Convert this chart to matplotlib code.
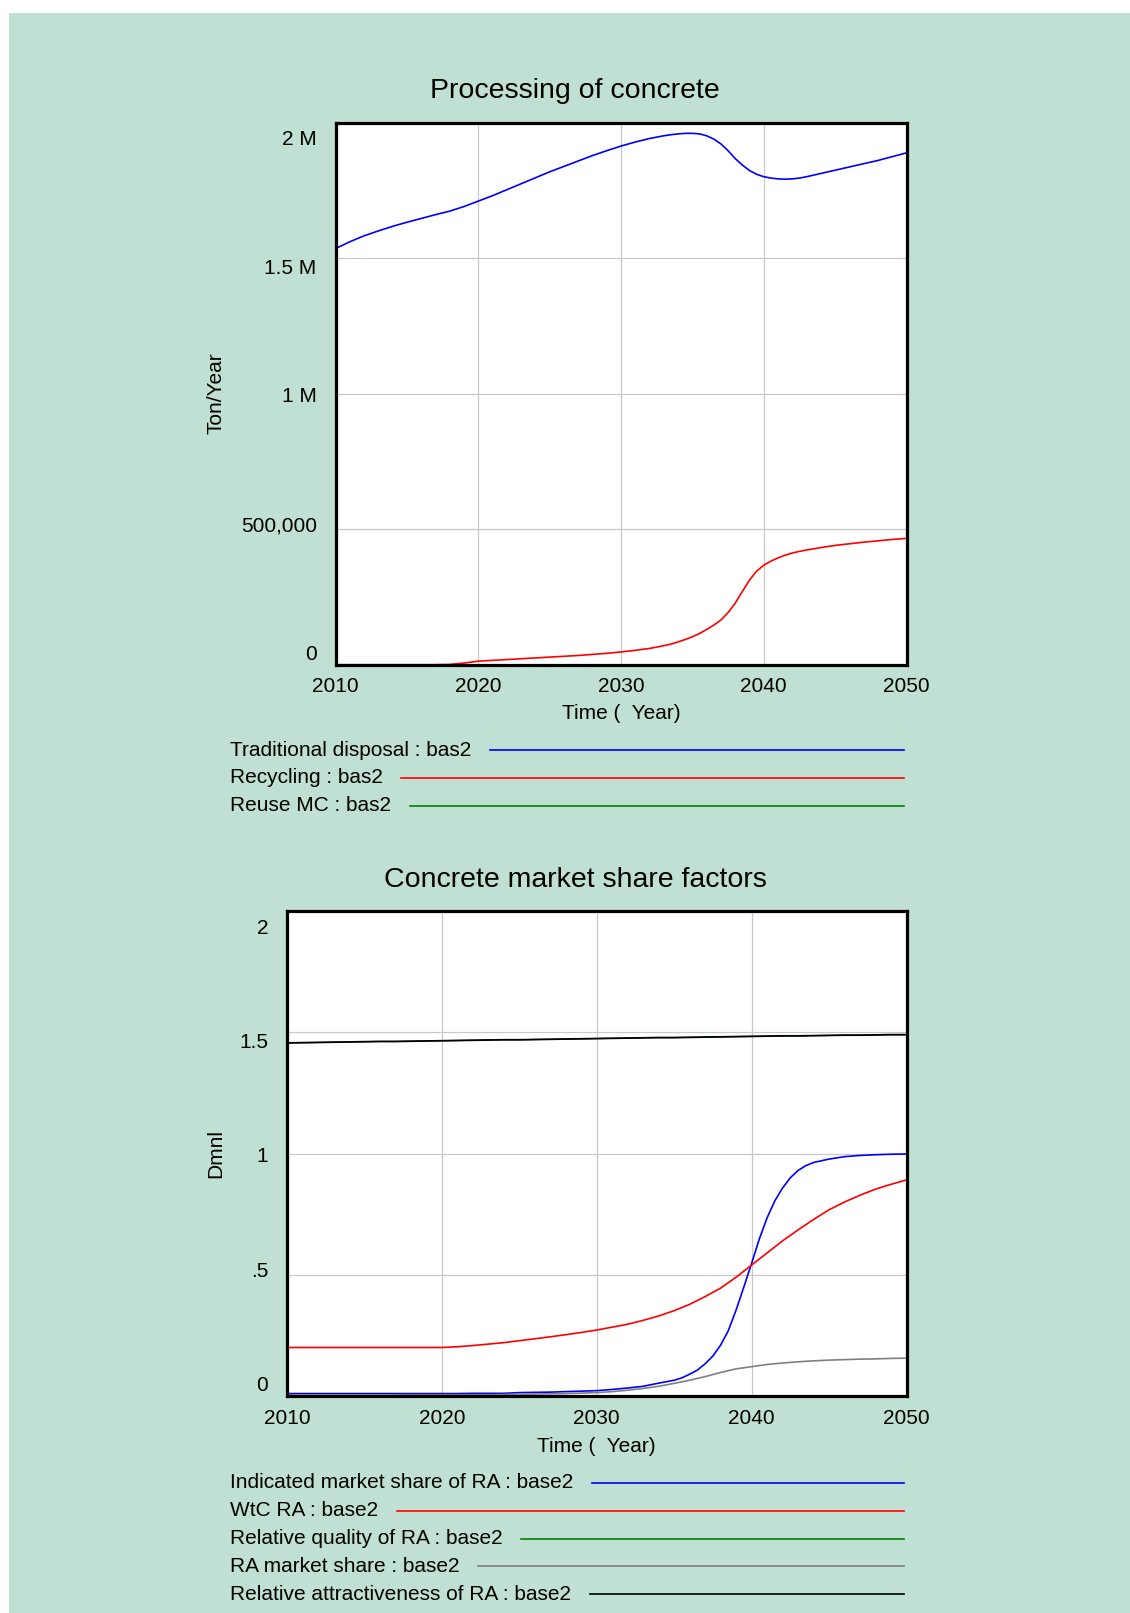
import matplotlib
matplotlib.use("Agg")
import matplotlib.pyplot as plt
from matplotlib.lines import Line2D
from matplotlib.patches import Rectangle
from matplotlib.transforms import ScaledTranslation

plt.rcParams['font.family'] = ['Liberation Sans', 'DejaVu Sans']

W, H = 1130, 1613
BG = '#bfe0d2'

years = list(range(2010, 2051))

# Processing of concrete (Ton/Year), read finer around the 2033-2043 bend
top_years = [2010, 2011, 2012, 2013, 2014, 2015, 2016, 2017, 2018, 2019, 2020, 2021, 2022,
             2023, 2024, 2025, 2026, 2027, 2028, 2029, 2030, 2031, 2032, 2033,
             2033.5, 2034, 2034.5, 2035, 2035.5, 2036, 2036.5, 2037, 2037.5, 2038, 2038.5,
             2039, 2039.5, 2040, 2040.5, 2041, 2041.5, 2042, 2042.5, 2043,
             2044, 2045, 2046, 2047, 2048, 2049, 2050]
trad_disposal = [1535000, 1560000, 1582000, 1600000, 1617000, 1632000, 1646000, 1660000,
                 1673000, 1690000, 1710000, 1730000, 1752000, 1774000, 1796000, 1818000,
                 1838000, 1858000, 1878000, 1896000, 1913000, 1928000, 1941000, 1951000,
                 1955000, 1958000, 1960000, 1960000, 1958000, 1951000, 1939000, 1921000,
                 1896000, 1867000, 1843000, 1823000, 1809000, 1800000, 1795000, 1792000,
                 1791000, 1792000, 1795000, 1800000,
                 1812000, 1824000, 1836000, 1848000, 1860000, 1874000, 1888000]
recycling = [0, 0, 0, 0, 0, 0, 0, 0, 1000, 6000, 13000, 16000, 19000, 22000, 25000, 28000,
             31000, 34000, 38000, 42000, 47000, 53000, 60000, 70000,
             76000, 84000, 93000, 103000, 115000, 130000, 146000, 165000, 192000, 227000,
             270000, 312000, 345000, 367000, 382000, 394000, 404000, 412000, 418000, 423000,
             432000, 440000, 446000, 452000, 457000, 462000, 466000]
reuse_mc = [0] * len(top_years)

# Concrete market share factors (Dmnl)
ind_share_years = [2010, 2011, 2012, 2013, 2014, 2015, 2016, 2017, 2018, 2019, 2020, 2021,
                   2022, 2023, 2024, 2025, 2026, 2027, 2028, 2029, 2030, 2031, 2032, 2033,
                   2034, 2035, 2035.5, 2036, 2036.5, 2037, 2037.5, 2038, 2038.5, 2039,
                   2039.5, 2040, 2040.5, 2041, 2041.5, 2042, 2042.5, 2043, 2043.5, 2044,
                   2045, 2046, 2047, 2048, 2049, 2050]
ind_share = [0.010, 0.010, 0.010, 0.010, 0.010, 0.010, 0.010, 0.010, 0.010, 0.010, 0.010,
             0.010, 0.011, 0.011, 0.011, 0.014, 0.015, 0.016, 0.018, 0.020, 0.022, 0.027,
             0.033, 0.040, 0.053, 0.065,
             0.075, 0.090, 0.107, 0.133, 0.165, 0.210, 0.270, 0.355, 0.450, 0.547, 0.648,
             0.735, 0.805, 0.858, 0.900, 0.930, 0.950, 0.963,
             0.977, 0.987, 0.992, 0.995, 0.997, 0.998]
wtc_ra = [0.200, 0.200, 0.200, 0.200, 0.200, 0.200, 0.200, 0.200, 0.200, 0.200, 0.200,
          0.203, 0.208, 0.214, 0.220, 0.228, 0.236, 0.244, 0.253, 0.262, 0.272, 0.284,
          0.296, 0.312, 0.330, 0.352, 0.378, 0.410, 0.445, 0.490, 0.540, 0.590, 0.640,
          0.685, 0.728, 0.768, 0.800, 0.828, 0.853, 0.873, 0.891]
ra_share = [0.004, 0.004, 0.004, 0.004, 0.004, 0.004, 0.004, 0.004, 0.005, 0.005, 0.005,
            0.005, 0.005, 0.005, 0.006, 0.007, 0.008, 0.009, 0.010, 0.012, 0.014, 0.018,
            0.024, 0.031, 0.040, 0.052, 0.065, 0.080, 0.097, 0.112, 0.121, 0.130, 0.136,
            0.141, 0.145, 0.148, 0.150, 0.152, 0.153, 0.155, 0.156]
rel_attract = [1.456, 1.457, 1.458, 1.459, 1.460, 1.461, 1.462, 1.462, 1.463, 1.464, 1.465,
               1.466, 1.467, 1.468, 1.469, 1.469, 1.470, 1.471, 1.472, 1.473, 1.474, 1.475,
               1.476, 1.477, 1.478, 1.478, 1.479, 1.480, 1.481, 1.482, 1.483, 1.484, 1.485,
               1.485, 1.486, 1.487, 1.488, 1.488, 1.489, 1.490, 1.490]
# not visible in the source: it sits right under the black line
rel_quality = list(rel_attract)

x_ticks = [2010, 2020, 2030, 2040, 2050]
top_yticks = [0, 500000, 1000000, 1500000, 2000000]
top_ylabels = ['0', '500,000', '1 M', '1.5 M', '2 M']
bot_yticks = [0, 0.5, 1, 1.5, 2]
bot_ylabels = ['0', '.5', '1', '1.5', '2']

top_names = ['Traditional disposal : bas2', 'Recycling : bas2', 'Reuse MC : bas2']
top_colors = ['#0000ff', '#ff0000', '#008000']
bot_names = ['Indicated market share of RA : base2', 'WtC RA : base2',
             'Relative quality of RA : base2', 'RA market share : base2',
             'Relative attractiveness of RA : base2']
bot_colors = ['#0000ff', '#ff0000', '#008000', '#808080', '#000000']


def px_box(left, right, top, bottom):
    return [left / W, 1 - bottom / H, (right - left) / W, (bottom - top) / H]


def style_axes(ax, yticks, ylabels, ylabel):
    ax.set_xlim(2010, 2050)
    ax.set_ylim(yticks[0], yticks[-1])
    ax.set_xticks(x_ticks)
    ax.set_yticks(yticks)
    ax.set_yticklabels(ylabels)
    ax.tick_params(length=0, labelsize=15)
    ax.tick_params(axis='y', pad=13.5)
    ax.tick_params(axis='x', pad=9)
    ax.grid(True, color='#c8c8c8', linewidth=0.9)
    ax.set_axisbelow(True)
    for sp in ax.spines.values():
        sp.set_linewidth(2.3)
        sp.set_zorder(5)
    ax.set_xlabel('Time (  Year)', fontsize=15)
    ax.set_ylabel(ylabel, fontsize=15)
    # vensim spreads the y labels evenly from just inside the top to just inside the bottom
    labels = ax.get_yticklabels()
    n = len(labels)
    for i, lab in enumerate(labels):
        dy = 9 + (-11 - 9) * i / (n - 1)
        lab.set_transform(lab.get_transform() + ScaledTranslation(0, dy / 72, ax.figure.dpi_scale_trans))


def vensim_legend(fig, names, colors, y0):
    renderer = fig.canvas.get_renderer()
    for i, (name, col) in enumerate(zip(names, colors)):
        y = 1 - (y0 + i * 27.8) / H
        t = fig.text(229.5 / W, y, name, ha='left', va='center', fontsize=15)
        bb = t.get_window_extent(renderer)
        fig.add_artist(Line2D([(bb.x1 + 19) / W, 903.5 / W], [y, y], color=col,
                              linewidth=1.2, transform=fig.transFigure))


fig = plt.figure(figsize=(W / 100, H / 100), dpi=100)
fig.patch.set_facecolor('white')
fig.add_artist(Rectangle((9 / W, 0), 1 - 9 / W, 1 - 13 / H, transform=fig.transFigure,
                         facecolor=BG, edgecolor='none', zorder=-10))

# top chart
ax1 = fig.add_axes(px_box(335.5, 906.5, 122.5, 664.7))
ax1.plot(top_years, trad_disposal, color=top_colors[0], linewidth=1.2)
ax1.plot(top_years, recycling, color=top_colors[1], linewidth=1.2)
ax1.plot(top_years, reuse_mc, color=top_colors[2], linewidth=1.2)
style_axes(ax1, top_yticks, top_ylabels, 'Ton/Year')
ax1.xaxis.set_label_coords(0.5, -(704 - 664.7) / 542.2)
ax1.yaxis.set_label_coords((225 - 335.5) / 571, 0.5)
fig.text(575 / W, 1 - 90.5 / H, 'Processing of concrete', ha='center', va='center', fontsize=20.5)

# bottom chart
ax2 = fig.add_axes(px_box(287, 906.5, 911, 1396))
ax2.plot(ind_share_years, ind_share, color=bot_colors[0], linewidth=1.2)
ax2.plot(years, wtc_ra, color=bot_colors[1], linewidth=1.2)
ax2.plot(years, rel_quality, color=bot_colors[2], linewidth=0.9)
ax2.plot(years, ra_share, color=bot_colors[3], linewidth=1.2)
ax2.plot(years, rel_attract, color=bot_colors[4], linewidth=1.3)
style_axes(ax2, bot_yticks, bot_ylabels, 'Dmnl')
ax2.xaxis.set_label_coords(0.5, -(1437 - 1396) / 485)
ax2.yaxis.set_label_coords((225 - 287) / 619.5, 0.5)
fig.text(575 / W, 1 - 880 / H, 'Concrete market share factors', ha='center', va='center', fontsize=20.5)

vensim_legend(fig, top_names, top_colors, 750)
vensim_legend(fig, bot_names, bot_colors, 1483)

fig.savefig('out.png', dpi=100, facecolor=fig.get_facecolor())
